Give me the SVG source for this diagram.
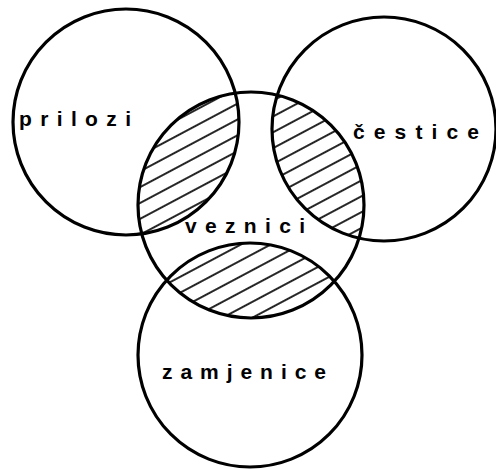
<svg xmlns="http://www.w3.org/2000/svg" width="496" height="469" viewBox="0 0 496 469">
<style>
.c{fill:none;stroke:#000;stroke-width:3.2}
.t{font-family:"Liberation Sans",Arial,sans-serif;font-weight:bold;font-size:21px;fill:#000}
</style>
<defs>
<pattern id="hatch" patternUnits="userSpaceOnUse" width="14" height="14" patternTransform="rotate(-28)">
<line x1="-2" y1="7" x2="16" y2="7" stroke="#000" stroke-width="1.7"/>
</pattern>
<clipPath id="cL"><circle cx="126" cy="122" r="113"/></clipPath>
<clipPath id="cR"><circle cx="384" cy="129" r="112"/></clipPath>
<clipPath id="cM"><circle cx="251" cy="205" r="113"/></clipPath>
<clipPath id="cB"><circle cx="250" cy="355" r="112"/></clipPath>
</defs>
<rect width="496" height="469" fill="#fff"/>
<g id="hatching">
<g clip-path="url(#cM)"><rect x="0" y="0" width="496" height="469" fill="url(#hatch)" clip-path="url(#cL)"/></g>
<g clip-path="url(#cM)"><rect x="0" y="0" width="496" height="469" fill="url(#hatch)" clip-path="url(#cR)"/></g>
<g clip-path="url(#cM)"><rect x="0" y="0" width="496" height="469" fill="url(#hatch)" clip-path="url(#cB)"/></g>
</g>
<g id="prilozi">
<circle class="c" cx="126" cy="122" r="113"/>
<text class="t" x="19" y="126" textLength="112" lengthAdjust="spacing">prilozi</text>
</g>
<g id="cestice">
<circle class="c" cx="384" cy="129" r="112"/>
<text class="t" x="353" y="139" textLength="126" lengthAdjust="spacing">čestice</text>
</g>
<g id="veznici">
<circle class="c" cx="251" cy="205" r="113"/>
<text class="t" x="185" y="233" textLength="120" lengthAdjust="spacing">veznici</text>
</g>
<g id="zamjenice">
<circle class="c" cx="250" cy="355" r="112"/>
<text class="t" x="162" y="379" textLength="164" lengthAdjust="spacing">zamjenice</text>
</g>
<g id="connectors"/>
</svg>
